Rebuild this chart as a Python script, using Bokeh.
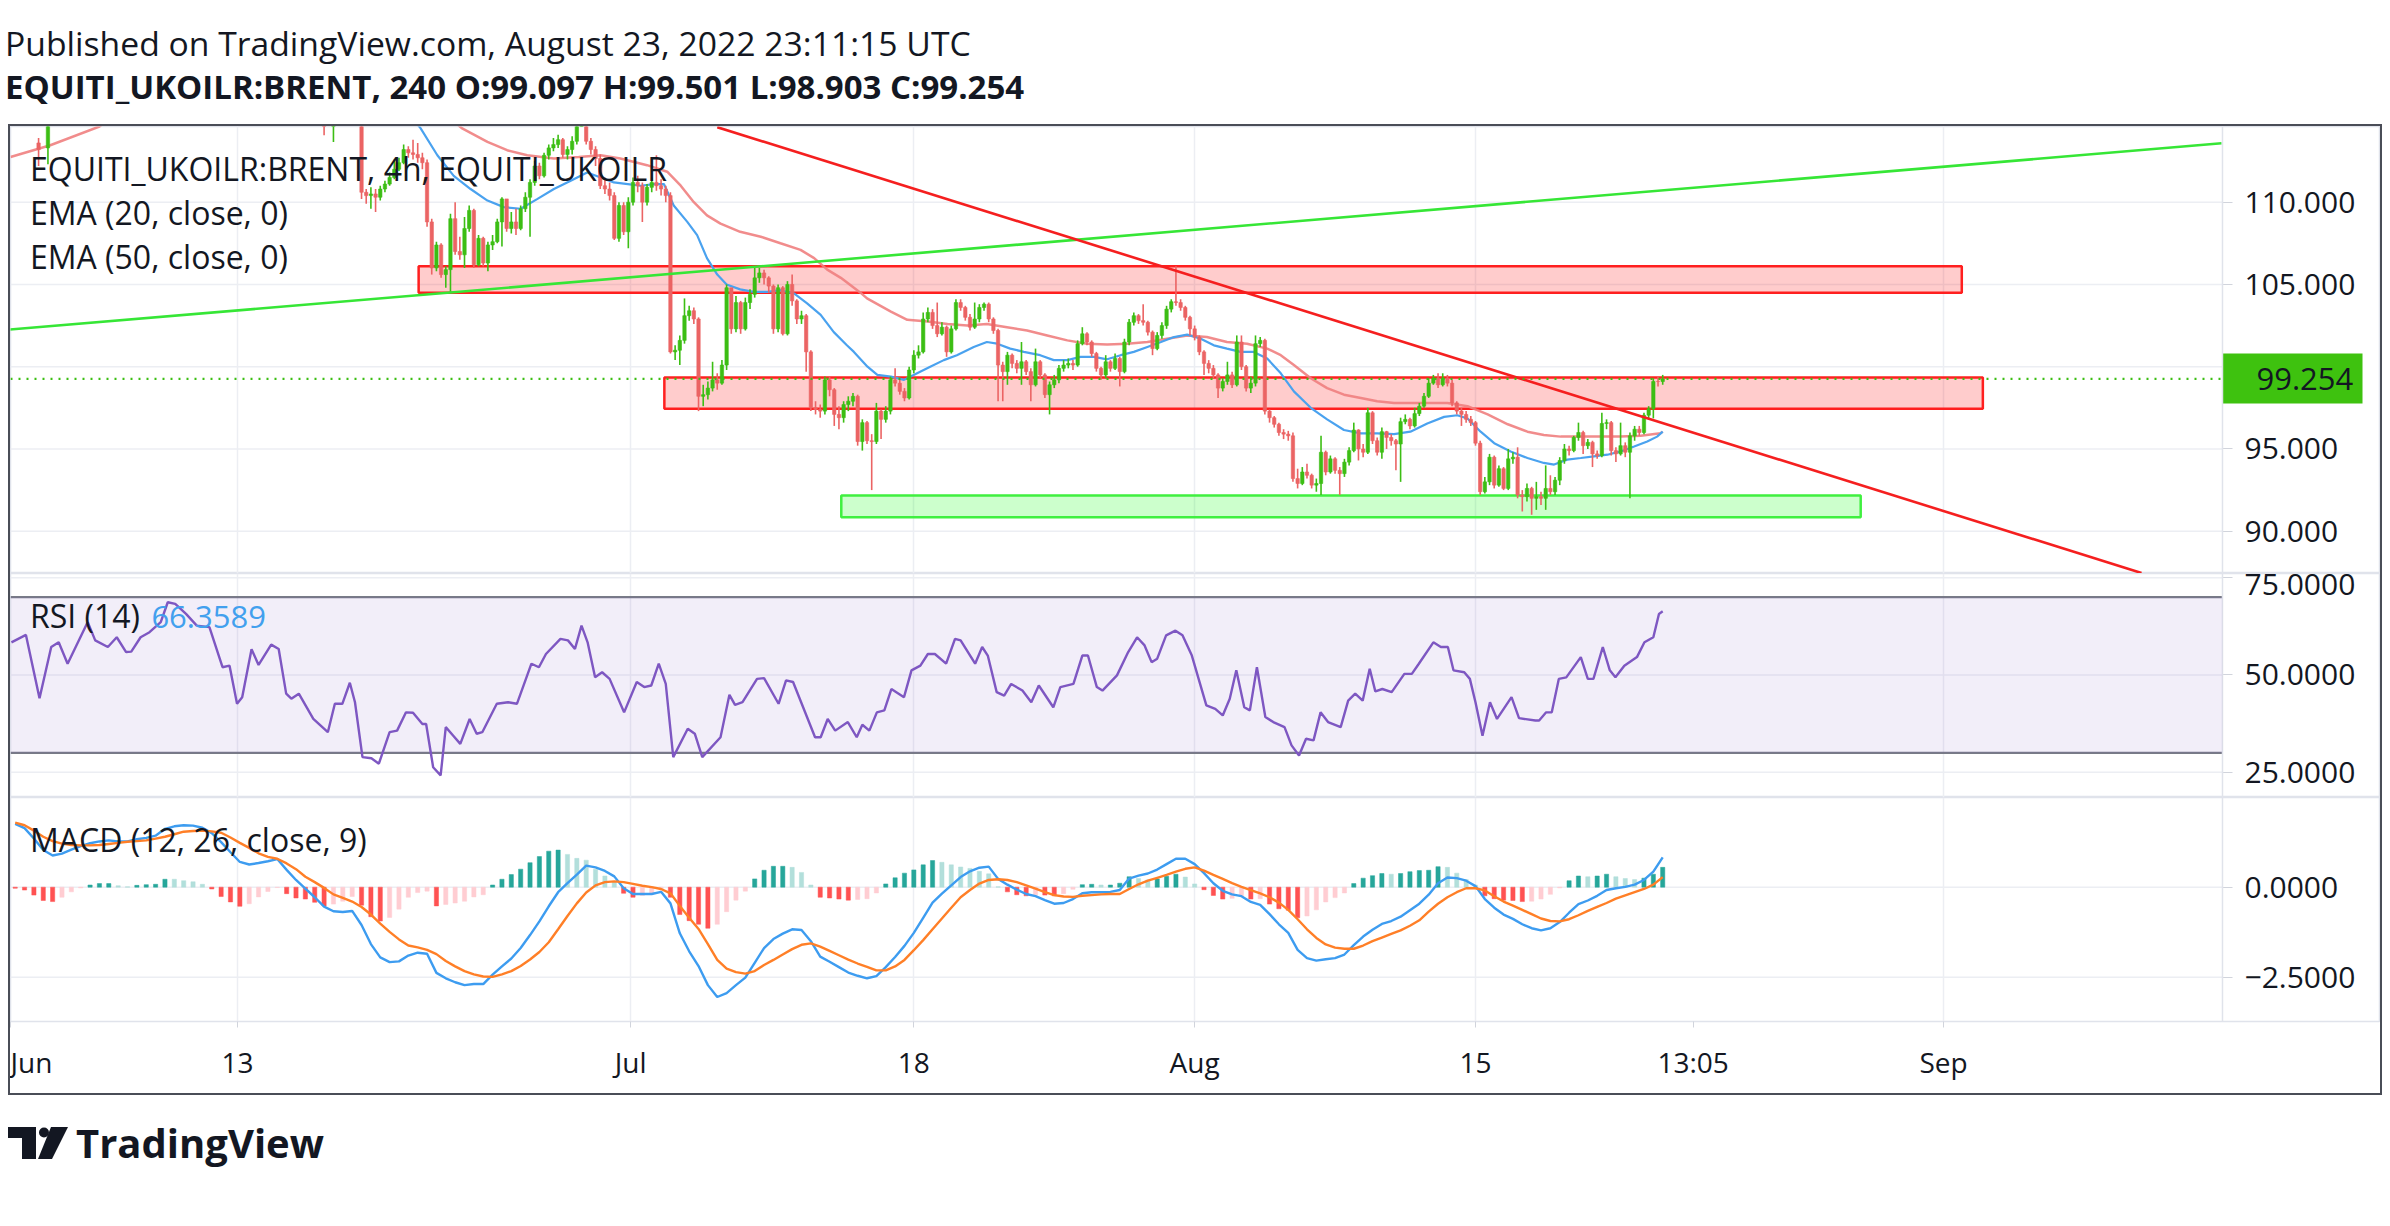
from bokeh.plotting import figure
from bokeh.models import (Range1d, FixedTicker, NumeralTickFormatter, Span, Label, LinearAxis,
                          Legend, LegendItem, Div, BoxAnnotation, ColumnDataSource)
from bokeh.layouts import column
from bokeh.embed import file_html
from bokeh.resources import INLINE

FONT = "Open Sans"
TEXT = "#131722"

# ---------------- data (bar index = 4h candle number, 0 = first visible bar) ----------------
# few early candles that poke into the visible price window
early_bar = [6, 8, 67, 69]
early_open = [113.6, 113.3, 116.3, 115.3]
early_high = [113.9, 116.0, 116.8, 116.6]
early_low = [112.2, 112.3, 114.07, 113.66]
early_close = [113.2, 115.5, 115.6, 116.1]

# continuous block of candles, bars 75 .. 353
first_bar = 75
first_open = 115.2
closes = [
    110.6, 110.4, 110.5, 110.3, 110.8, 111.1, 111.5, 112.0, 112.4, 113.2,
    113.0, 112.9, 112.7, 112.4, 108.8, 106.0, 107.4, 105.6, 105.9, 109.0,
    107.0, 106.8, 108.4, 109.5, 106.2, 107.8, 106.3, 107.4, 107.6, 108.8,
    110.2, 108.4, 108.8, 108.4, 109.6, 110.3, 111.2, 112.2, 111.6, 112.85,
    113.3, 113.5, 113.8, 112.9, 113.2, 113.7, 114.8, 115.5, 113.7, 113.2,
    112.65, 111.0, 110.8, 110.4, 107.8, 109.8, 108.2, 110.0, 111.2, 111.0,
    110.0, 110.9, 111.2, 111.0, 110.8, 110.4, 100.9, 101.0, 101.6, 103.1,
    103.4, 102.9, 98.2, 98.3, 98.7, 99.2, 99.0, 100.1, 104.8, 102.3,
    103.9, 102.3, 103.9, 104.4, 105.4, 105.7, 105.4, 104.9, 102.3, 104.8,
    102.0, 105.0, 104.0, 102.9, 103.1, 100.9, 97.5, 97.4, 97.3, 99.2,
    98.6, 97.1, 96.9, 97.7, 97.9, 98.2, 95.45, 96.6, 95.5, 95.45,
    97.3, 96.8, 97.3, 99.2, 99.0, 98.5, 98.1, 99.8, 100.7, 100.9,
    102.9, 103.3, 102.5, 102.0, 102.4, 100.9, 102.3, 103.9, 103.6, 103.0,
    102.4, 102.9, 103.6, 103.8, 102.9, 102.2, 100.1, 99.7, 100.7, 100.2,
    99.9, 100.3, 99.7, 98.9, 100.3, 99.5, 98.3, 98.9, 99.2, 99.9,
    100.1, 100.2, 100.1, 101.4, 102.0, 101.5, 100.8, 99.9, 99.5, 100.3,
    99.9, 100.5, 99.7, 101.5, 102.7, 103.1, 102.8, 102.7, 102.1, 101.1,
    101.9, 102.5, 103.5, 103.95, 103.9, 103.6, 103.0, 102.3, 101.8, 100.9,
    100.2, 99.9, 99.5, 98.7, 99.1, 99.5, 98.9, 101.5, 100.0, 98.7,
    99.0, 101.4, 101.6, 97.3, 96.9, 96.5, 96.0, 95.9, 95.8, 93.2,
    92.9, 93.6, 93.4, 92.8, 92.9, 94.8, 93.6, 94.4, 93.7, 93.5,
    94.2, 94.9, 96.15, 95.0, 94.8, 97.2, 95.5, 94.8, 96.05, 95.7,
    95.5, 95.3, 96.66, 96.8, 96.4, 97.15, 97.6, 98.2, 99.0, 99.3,
    98.9, 99.3, 99.0, 97.8, 97.3, 97.1, 96.8, 96.6, 95.35, 92.4,
    93.0, 94.5, 92.8, 93.8, 92.6, 94.4, 94.5, 92.2, 92.1, 92.6,
    92.0, 92.1, 92.0, 92.6, 92.4, 93.1, 94.3, 95.0, 94.9, 95.7,
    96.0, 95.2, 95.4, 94.7, 94.6, 96.55, 96.6, 94.9, 94.7, 95.2,
    94.8, 95.8, 96.2, 96.0, 97.05, 97.45, 99.1, 99.097, 99.254,
]
highs = [
    115.6, 110.8, 110.9, 110.8, 111.0, 111.3, 111.8, 112.6, 112.7, 113.5,
    113.4, 113.8, 113.6, 113.0, 112.6, 109.0, 107.6, 107.5, 106.1, 109.3,
    110.0, 107.9, 109.1, 109.8, 109.6, 108.0, 107.9, 107.6, 108.0, 109.0,
    110.3, 110.2, 109.4, 109.6, 109.8, 110.6, 111.4, 112.5, 112.4, 113.0,
    113.5, 113.9, 114.1, 113.9, 113.4, 114.0, 115.3, 116.0, 115.6, 113.9,
    113.4, 112.9, 111.5, 111.2, 110.6, 110.0, 110.0, 110.3, 111.5, 111.6,
    111.2, 111.1, 111.5, 112.85, 111.4, 111.0, 110.6, 101.3, 101.9, 104.15,
    103.7, 103.6, 103.0, 98.9, 99.1, 100.3, 99.6, 100.4, 105.0, 104.6,
    104.3, 104.0, 104.2, 104.7, 106.0, 106.0, 105.9, 105.5, 105.0, 105.0,
    104.9, 105.2, 105.6, 104.1, 103.4, 103.2, 101.0, 97.9, 97.7, 99.4,
    99.4, 98.7, 97.6, 97.9, 98.2, 98.4, 98.3, 96.8, 96.7, 95.9,
    97.8, 97.4, 97.6, 99.4, 99.9, 99.2, 98.7, 100.0, 101.0, 101.3,
    103.3, 103.6, 103.5, 103.9, 102.7, 102.5, 102.5, 104.1, 104.1, 103.7,
    103.2, 103.9, 103.8, 103.9, 103.9, 103.0, 102.3, 100.3, 100.9, 100.8,
    100.4, 101.5, 100.4, 99.9, 101.1, 100.4, 99.6, 99.1, 99.5, 100.1,
    100.4, 100.5, 100.4, 101.6, 102.4, 102.1, 101.6, 100.9, 100.0, 100.7,
    100.4, 100.8, 100.6, 101.7, 102.9, 103.3, 103.2, 103.8, 102.8, 102.2,
    102.1, 102.7, 103.7, 104.1, 106.1, 104.1, 103.7, 103.1, 102.5, 101.9,
    101.0, 100.4, 100.1, 99.6, 99.3, 100.3, 99.7, 101.9, 101.9, 100.1,
    99.4, 101.9, 101.8, 101.7, 97.4, 97.0, 96.6, 96.2, 96.1, 96.0,
    93.8, 93.9, 94.1, 93.5, 93.2, 95.8, 94.9, 94.6, 94.5, 93.9,
    94.4, 95.1, 96.6, 96.2, 95.3, 97.5, 97.3, 95.7, 96.3, 96.1,
    95.9, 95.6, 96.9, 97.1, 96.9, 97.5, 97.8, 98.4, 99.3, 99.5,
    99.6, 99.6, 99.5, 99.2, 97.9, 97.5, 97.3, 97.0, 96.7, 95.5,
    93.3, 94.7, 94.6, 94.0, 93.9, 95.0, 94.8, 95.1, 92.5, 92.9,
    92.7, 93.0, 92.4, 94.0, 93.4, 93.3, 94.5, 95.3, 95.2, 95.8,
    96.6, 96.1, 95.6, 95.5, 94.9, 97.2, 96.8, 96.7, 95.1, 96.6,
    95.4, 96.0, 96.4, 96.4, 97.2, 97.6, 99.3, 99.4, 99.501,
]
lows = [
    110.2, 109.9, 109.6, 109.4, 110.1, 110.6, 111.0, 111.4, 111.9, 112.3,
    112.7, 112.6, 112.4, 112.0, 108.5, 105.6, 105.8, 105.4, 104.8, 104.55,
    106.8, 106.5, 106.0, 108.2, 106.0, 106.1, 106.1, 105.8, 107.1, 107.5,
    107.3, 108.2, 108.1, 108.0, 108.3, 109.4, 107.9, 111.0, 111.4, 111.5,
    112.6, 113.1, 113.3, 112.7, 112.6, 112.9, 113.5, 114.6, 113.5, 112.9,
    112.2, 110.8, 110.5, 110.1, 107.7, 107.6, 108.0, 107.2, 109.8, 110.6,
    108.8, 109.8, 110.6, 110.7, 110.4, 110.0, 100.8, 100.4, 100.1, 101.4,
    102.8, 102.6, 97.3, 97.6, 98.0, 98.5, 98.6, 98.9, 99.8, 102.0,
    102.1, 102.0, 102.2, 103.5, 104.2, 105.1, 105.0, 104.5, 102.0, 102.1,
    101.9, 101.9, 103.7, 102.6, 102.6, 99.7, 97.3, 97.1, 96.9, 97.1,
    98.2, 96.4, 96.2, 96.6, 97.3, 97.6, 95.2, 94.9, 95.3, 92.5,
    95.3, 95.6, 96.6, 97.1, 98.8, 98.3, 97.9, 98.0, 99.6, 100.5,
    100.8, 102.7, 102.3, 101.8, 101.9, 100.6, 100.8, 102.2, 103.4, 102.8,
    102.2, 102.3, 102.7, 103.4, 102.7, 102.0, 97.9, 97.9, 98.9, 99.9,
    99.6, 98.9, 99.5, 97.9, 98.8, 99.3, 98.1, 97.1, 98.7, 99.0,
    99.7, 99.9, 99.8, 100.0, 101.3, 101.3, 100.6, 99.7, 99.2, 99.3,
    99.7, 99.8, 98.8, 99.6, 101.3, 102.5, 102.6, 102.5, 101.9, 100.7,
    101.0, 101.7, 102.3, 103.3, 103.7, 103.4, 102.8, 101.9, 101.6, 100.7,
    99.5, 99.6, 99.3, 98.1, 98.5, 98.9, 98.7, 98.8, 99.8, 98.5,
    98.4, 98.8, 101.2, 97.1, 96.6, 96.3, 95.8, 95.6, 95.5, 93.0,
    92.6, 92.8, 93.2, 92.6, 92.4, 92.2, 93.4, 93.5, 93.5, 92.2,
    93.3, 94.0, 94.8, 94.3, 94.5, 94.7, 95.3, 94.6, 94.4, 95.0,
    95.2, 93.7, 93.0, 96.5, 96.2, 96.3, 97.0, 97.5, 98.1, 98.9,
    98.7, 98.8, 98.8, 97.6, 97.1, 96.4, 96.6, 96.4, 95.2, 92.2,
    92.3, 92.8, 92.6, 92.7, 92.5, 92.5, 94.1, 92.0, 91.2, 91.8,
    91.0, 91.3, 91.6, 91.3, 92.2, 92.2, 92.8, 94.1, 94.6, 94.8,
    95.5, 94.7, 95.0, 93.9, 94.4, 94.5, 96.2, 94.6, 94.2, 94.6,
    94.5, 92.0, 95.5, 95.8, 95.9, 96.8, 96.86, 98.8, 98.903,
]

# EMA lines (bar, value)
ema20_bar = [85.0, 87.6, 91.2, 94.7, 98.3, 101.9, 105.4, 109.0, 112.6, 116.1, 119.7, 123.2, 126.1,
             128.9, 131.9, 134.6, 137.5, 139.6, 141.7, 144.6, 146.7, 148.8, 151.0, 153.0, 155.9,
             158.8, 161.7, 164.5, 167.4, 170.2, 173.1, 175.9, 178.7, 180.2, 183.1, 185.2, 188.1,
             190.9, 193.7, 196.5, 199.4, 202.2, 205.8, 208.6, 210.8, 213.6, 216.5, 220.0, 222.9,
             225.8, 228.6, 231.5, 234.3, 237.2, 240.0, 242.9, 245.8, 248.6, 251.4, 254.3, 257.1,
             259.9, 262.8, 265.6, 268.5, 271.4, 274.2, 277.8, 281.3, 284.9, 288.5, 292.0, 295.6,
             299.1, 302.7, 306.3, 309.1, 311.3, 314.1, 317.0, 320.5, 324.1, 327.6, 329.8, 332.6,
             335.5, 338.3, 341.2, 344.0, 346.9, 349.7, 351.8, 353.0]
ema20_val = [115.4, 114.5, 112.85, 111.6, 110.8, 110.1, 109.7, 109.6, 110.2, 110.8, 111.3, 111.8, 111.5,
             111.2, 111.1, 111.0, 111.1, 111.1, 109.8, 108.8, 108.0, 106.6, 105.6, 105.0, 104.7,
             104.55, 104.55, 104.65, 104.45, 103.85, 103.15, 102.1, 101.3, 100.9, 100.0, 99.5, 99.4,
             99.2, 99.6, 100.0, 100.4, 100.7, 101.2, 101.5, 101.4, 101.1, 100.9, 100.7, 100.4,
             100.4, 100.6, 100.6, 100.45, 100.7, 100.9, 101.2, 101.5, 101.8, 101.95, 101.7, 101.3,
             101.1, 100.9, 100.9, 100.5, 99.6, 98.5, 97.5, 96.8, 96.15, 95.95, 95.95, 95.9,
             96.05, 96.55, 96.95, 97.05, 96.85, 96.05, 95.35, 94.85, 94.45, 94.15, 94.05, 94.35,
             94.45, 94.55, 94.65, 94.85, 95.15, 95.45, 95.75, 96.05]
ema50_bar = [0.0, 8.5, 19.0, 23.0, 92.0, 96.4, 101.9, 106.1, 110.4, 116.1, 121.4, 126.1, 130.3, 136.0,
             140.3, 143.2, 146.0, 148.8, 151.7, 155.9, 160.3, 164.5, 168.8, 171.7, 174.5, 177.4,
             181.6, 183.0, 188.1, 191.6, 196.0, 200.2, 204.4, 208.6, 212.9, 217.2, 221.5, 225.8,
             230.0, 234.3, 238.6, 242.9, 247.1, 251.4, 255.6, 259.9, 264.2, 268.5, 271.4, 274.2,
             277.8, 281.3, 284.9, 288.5, 292.0, 295.6, 299.1, 302.7, 307.0, 311.3, 315.6, 319.9,
             324.1, 327.6, 331.2, 335.5, 339.8, 344.0, 348.3, 352.5, 353.0]
ema50_val = [112.75, 113.46, 114.6, 115.5, 115.6, 114.5, 113.66, 113.16, 112.85, 112.65, 112.75, 112.85,
             112.65, 112.25, 111.85, 111.0, 110.0, 109.2, 108.7, 108.2, 107.9, 107.5, 107.1, 106.6,
             105.9, 105.4, 104.5, 104.15, 103.35, 102.85, 102.75, 102.6, 102.5, 102.6, 102.4, 102.2,
             101.9, 101.6, 101.4, 101.35, 101.4, 101.5, 101.7, 101.9, 101.8, 101.5, 101.4, 101.1,
             100.7, 100.1, 99.3, 98.7, 98.3, 98.1, 97.9, 97.8, 97.8, 97.8, 97.8, 97.6, 97.1, 96.5,
             96.05, 95.85, 95.75, 95.75, 95.75, 95.75, 95.8, 95.95, 96.05]

# drawings on the price pane
green_line_bar = [-0.4, 472.4]
green_line_price = [102.25, 113.58]
red_line_bar = [151.0, 455.3]
red_line_price = [114.56, 87.46]
zone_left = [87.2, 139.7, 177.5]
zone_right = [416.9, 421.4, 395.3]
zone_bottom = [104.5, 97.45, 90.85]
zone_top = [106.1, 99.35, 92.17]
zone_line = ["#ff1f1f", "#ff1f1f", "#3ff03f"]
zone_fill = ["#ff0000", "#ff0000", "#00ff00"]

# RSI (14)
rsi_bar = [0.2, 3.3, 6.2, 8.7, 10.3, 12.2, 16.5, 18.1, 20.8, 22.7,
           24.7, 25.8, 27.8, 29.7, 32.1, 33.6, 35.2, 37.5, 39.8, 42.5,
           45.3, 46.8, 48.4, 49.5, 51.5, 53.0, 55.7, 57.3, 58.9, 60.0,
           61.6, 64.7, 67.8, 69.3, 70.9, 72.5, 73.6, 75.2, 77.1, 78.7,
           81.0, 82.6, 84.5, 86.0, 88.0, 88.8, 90.3, 91.9, 93.0, 94.6,
           96.1, 98.1, 99.6, 100.8, 103.9, 106.3, 108.2, 111.3, 112.9, 114.4,
           117.5, 119.1, 120.6, 122.0, 123.3, 124.9, 126.4, 128.0, 131.1, 133.8,
           135.4, 136.9, 138.5, 140.0, 141.6, 144.7, 146.2, 147.8, 151.7, 153.6,
           154.8, 156.4, 159.5, 161.0, 164.1, 165.7, 167.2, 171.9, 173.1, 174.6,
           176.2, 178.9, 180.8, 182.0, 183.5, 185.1, 186.7, 188.2, 190.9, 192.5,
           194.4, 196.0, 197.5, 199.9, 201.8, 203.0, 206.1, 207.6, 208.8, 210.7,
           212.3, 213.8, 216.2, 218.1, 219.7, 222.8, 224.3, 227.1, 229.0, 230.2,
           232.1, 233.3, 236.4, 238.8, 240.7, 242.3, 243.8, 245.0, 246.9, 248.9,
           250.4, 252.4, 255.5, 257.4, 259.0, 260.5, 261.9, 263.6, 264.8, 266.3,
           268.1, 269.8, 272.2, 273.7, 275.3, 276.8, 278.4, 279.9, 281.5, 284.2,
           285.8, 287.3, 288.9, 290.4, 291.6, 293.1, 295.1, 297.8, 299.4, 300.9,
           304.0, 305.6, 307.1, 308.3, 310.6, 311.8, 313.0, 314.5, 316.1, 317.6,
           320.7, 322.3, 325.8, 326.6, 328.1, 329.3, 330.8, 332.4, 335.5, 337.0,
           338.2, 340.2, 341.7, 342.9, 344.8, 347.5, 349.1, 351.0, 352.2, 353.0]
rsi_val = [58.4, 60.3, 44.0, 57.2, 58.4, 52.9, 63.6, 58.9, 57.2, 59.7,
           55.9, 56.0, 59.7, 61.0, 63.6, 68.7, 68.3, 65.7, 62.7, 62.3,
           52.0, 52.4, 42.6, 44.3, 56.6, 52.6, 57.8, 56.7, 45.2, 43.9,
           45.2, 38.7, 35.3, 42.6, 42.6, 48.0, 43.0, 28.9, 28.6, 27.2,
           35.3, 35.7, 40.4, 40.3, 37.4, 37.4, 26.3, 24.2, 36.6, 34.4,
           32.3, 38.7, 34.9, 35.3, 42.6, 43.0, 42.6, 52.9, 52.0, 55.4,
           59.3, 58.9, 56.7, 62.7, 58.4, 49.4, 50.7, 49.0, 40.4, 48.2,
           46.9, 47.3, 52.9, 47.7, 28.9, 36.2, 34.9, 28.9, 34.0, 44.9,
           42.3, 43.0, 49.0, 49.2, 42.6, 48.6, 48.2, 34.0, 34.0, 38.7,
           35.7, 37.9, 34.0, 37.2, 35.7, 40.4, 40.9, 46.4, 44.3, 51.2,
           52.4, 55.4, 55.4, 52.9, 59.3, 58.9, 52.9, 57.2, 55.0, 45.6,
           44.7, 47.7, 46.0, 43.0, 47.3, 41.7, 46.9, 47.7, 55.0, 55.0,
           46.9, 46.0, 49.9, 55.9, 59.7, 57.6, 53.3, 54.2, 60.2, 61.4,
           60.2, 55.0, 42.2, 41.3, 39.6, 43.9, 51.2, 41.7, 40.9, 52.0,
           39.2, 37.9, 36.6, 31.9, 29.3, 33.6, 33.2, 40.4, 37.9, 36.6,
           43.4, 45.2, 43.4, 51.6, 45.8, 46.4, 45.6, 50.3, 50.3, 52.9,
           58.4, 57.2, 57.2, 51.2, 50.7, 49.0, 43.0, 34.4, 43.0, 38.7,
           44.3, 38.9, 38.3, 38.3, 40.4, 40.4, 49.0, 49.4, 54.6, 49.0,
           49.0, 57.2, 51.2, 49.4, 52.4, 54.6, 58.4, 59.7, 65.7, 66.3589]
rsi_levels = [30, 70]

# MACD (12, 26, 9) read every second bar
macd_bar = list(range(1, 354, 2))
macd_val = [1.76, 1.64, 1.35, 1.03, 0.88, 0.93, 1.04, 1.14, 1.22, 1.27,
            1.30, 1.27, 1.27, 1.33, 1.37, 1.43, 1.62, 1.69, 1.72, 1.71,
            1.65, 1.50, 1.25, 0.97, 0.70, 0.63, 0.67, 0.72, 0.78, 0.48,
            0.20, -0.04, -0.28, -0.54, -0.67, -0.69, -0.66, -1.05, -1.58, -1.95,
            -2.08, -2.06, -1.90, -1.82, -1.85, -2.38, -2.53, -2.64, -2.72, -2.69,
            -2.69, -2.43, -2.20, -1.98, -1.69, -1.33, -0.95, -0.53, -0.14, 0.11,
            0.35, 0.60, 0.55, 0.45, 0.30, -0.03, -0.19, -0.19, -0.19, -0.13,
            -0.45, -1.28, -1.78, -2.19, -2.72, -3.05, -2.94, -2.72, -2.51, -2.10,
            -1.69, -1.44, -1.29, -1.17, -1.19, -1.50, -1.93, -2.07, -2.22, -2.37,
            -2.46, -2.53, -2.47, -2.22, -1.94, -1.63, -1.27, -0.85, -0.43, -0.18,
            0.05, 0.28, 0.44, 0.54, 0.57, 0.23, 0.07, -0.07, -0.19, -0.25,
            -0.36, -0.46, -0.44, -0.33, -0.17, -0.14, -0.14, -0.13, -0.08, 0.24,
            0.32, 0.38, 0.49, 0.64, 0.79, 0.79, 0.64, 0.39, 0.11, -0.10,
            -0.20, -0.25, -0.41, -0.49, -0.75, -1.03, -1.27, -1.74, -1.97, -2.04,
            -2.00, -1.97, -1.87, -1.61, -1.37, -1.18, -1.02, -0.94, -0.82, -0.64,
            -0.46, -0.21, 0.11, 0.27, 0.25, 0.18, 0.03, -0.33, -0.57, -0.76,
            -0.88, -1.03, -1.14, -1.20, -1.14, -0.97, -0.71, -0.47, -0.37, -0.24,
            -0.08, -0.03, 0.01, 0.07, 0.20, 0.43, 0.83]
signal_val = [1.79, 1.72, 1.57, 1.40, 1.28, 1.21, 1.17, 1.16, 1.16, 1.17,
              1.20, 1.23, 1.26, 1.28, 1.30, 1.35, 1.40, 1.47, 1.54, 1.56,
              1.57, 1.55, 1.51, 1.38, 1.23, 1.09, 0.94, 0.84, 0.79, 0.66,
              0.50, 0.29, 0.14, -0.02, -0.20, -0.30, -0.40, -0.55, -0.76, -1.01,
              -1.24, -1.45, -1.62, -1.67, -1.74, -1.86, -2.05, -2.20, -2.33, -2.42,
              -2.48, -2.49, -2.42, -2.33, -2.19, -2.01, -1.80, -1.53, -1.17, -0.80,
              -0.45, -0.15, 0.05, 0.14, 0.16, 0.14, 0.09, 0.04, 0.00, -0.05,
              -0.17, -0.52, -0.85, -1.16, -1.58, -2.02, -2.26, -2.36, -2.40, -2.33,
              -2.16, -2.02, -1.87, -1.72, -1.60, -1.56, -1.65, -1.77, -1.89, -2.01,
              -2.12, -2.21, -2.31, -2.31, -2.20, -2.02, -1.75, -1.47, -1.17, -0.87,
              -0.57, -0.28, -0.08, 0.10, 0.20, 0.22, 0.20, 0.14, 0.05, -0.04,
              -0.14, -0.22, -0.26, -0.27, -0.24, -0.22, -0.20, -0.19, -0.19, -0.05,
              0.08, 0.18, 0.26, 0.34, 0.43, 0.51, 0.55, 0.46, 0.34, 0.23,
              0.11, 0.01, -0.08, -0.17, -0.28, -0.43, -0.63, -0.89, -1.17, -1.41,
              -1.59, -1.68, -1.71, -1.71, -1.62, -1.50, -1.40, -1.30, -1.20, -1.07,
              -0.92, -0.68, -0.46, -0.28, -0.14, -0.03, -0.03, -0.09, -0.25, -0.40,
              -0.51, -0.63, -0.75, -0.87, -0.94, -0.95, -0.89, -0.78, -0.66, -0.55,
              -0.44, -0.32, -0.23, -0.14, -0.05, 0.07, 0.28]

# time axis
grid_bars = [48.5, 132.5, 193, 253, 313, 413]
time_ticks = [0, 48.5, 132.5, 193, 253, 313, 359.5, 413]
time_labels = ["Jun", "13", "Jul", "18", "Aug", "15", "13:05", "Sep"]

# ---------------- derived candle table ----------------
main_bars = list(range(first_bar, first_bar + len(closes)))
opens = [first_open] + closes[:-1]
c_bar = early_bar + main_bars
c_open = early_open + opens
c_high = early_high + highs
c_low = early_low + lows
c_close = early_close + closes
UP, DOWN = "#3cbe14", "#eb6464"
c_color = [UP if c >= o else DOWN for o, c in zip(c_open, c_close)]
candles = ColumnDataSource(dict(
    bar=c_bar, high=c_high, low=c_low, color=c_color,
    top=[max(o, c) for o, c in zip(c_open, c_close)],
    bottom=[min(o, c) for o, c in zip(c_open, c_close)]))

hist = [m - s for m, s in zip(macd_val, signal_val)]
hist_color = []
prev = None
for h in hist:
    if h >= 0:
        hist_color.append("#26a69a" if (prev is None or h >= prev) else "#b2dfdb")
    else:
        hist_color.append("#ffcdd2" if (prev is not None and h > prev) else "#ff5252")
    prev = h

# ---------------- figures ----------------
# the plot frame spans the whole box; the price scale lives right of PRICE_X
PRICE_X = 472.6
x_range = Range1d(0, 506.36)
GRID = "#eceef3"
SEP = "#e0e3eb"


def make_pane(height, y0, y1, ticks, fmt, bottom=0, with_xaxis=False):
    p = figure(width=2370, height=height, x_range=x_range, y_range=Range1d(y0, y1),
               output_backend="svg", toolbar_location=None,
               x_axis_location="below" if with_xaxis else None, y_axis_location="right",
               min_border_left=0, min_border_right=0, min_border_top=0,
               min_border_bottom=bottom)
    p.background_fill_color = "white"
    p.border_fill_color = "white"
    p.outline_line_color = SEP
    p.outline_line_width = 1.5
    p.xgrid.ticker = FixedTicker(ticks=grid_bars)
    p.xgrid.grid_line_color = GRID
    p.xgrid.grid_line_width = 1.5
    p.ygrid.visible = False
    # horizontal grid lines stop at the price scale
    p.segment(x0=0, x1=PRICE_X, y0=ticks, y1=ticks, line_color=GRID, line_width=1.5,
              level="underlay")
    p.add_layout(Span(location=PRICE_X, dimension="height", line_color=SEP, line_width=1.5))
    ax = p.yaxis[0]
    ax.fixed_location = PRICE_X
    ax.ticker = FixedTicker(ticks=ticks)
    ax.formatter = NumeralTickFormatter(format=fmt)
    ax.axis_line_color = None
    ax.major_tick_line_color = "#d1d4dc"
    ax.major_tick_out = 10
    ax.major_tick_in = 0
    ax.minor_tick_line_color = None
    ax.major_label_standoff = 12
    ax.major_label_text_font = FONT
    ax.major_label_text_font_size = "30px"
    ax.major_label_text_color = TEXT
    return p


def pane_legend(items):
    return Legend(items=items, location="top_left", margin=20, padding=0, spacing=0,
                  glyph_width=0, glyph_height=44, label_height=44, label_standoff=0,
                  background_fill_alpha=0, border_line_alpha=0,
                  label_text_font=FONT, label_text_font_size="32px", label_text_color=TEXT)


# ----- price pane -----
p_main = make_pane(447, 87.43, 114.60, [90, 95, 100, 105, 110], "0.000")
p_main.yaxis[0].major_label_overrides = {100: ""}

p_main.quad(left=zone_left, right=zone_right, bottom=zone_bottom, top=zone_top,
            fill_color=zone_fill, fill_alpha=0.2, line_color=zone_line, line_width=2.5)
r_e50 = p_main.line(ema50_bar, ema50_val, line_color="#f08080", line_width=2.5, line_alpha=0.9)
r_e20 = p_main.line(ema20_bar, ema20_val, line_color="#4aa2ef", line_width=2.2)
p_main.segment(x0="bar", y0="low", x1="bar", y1="high", line_color="color", line_width=1.6, source=candles)
r_body = p_main.vbar(x="bar", width=0.72, top="top", bottom="bottom", fill_color="color",
                     line_color="color", line_width=0.6, source=candles)
p_main.line(green_line_bar, green_line_price, line_color="#36e636", line_width=2.6)
p_main.line(red_line_bar, red_line_price, line_color="#f51f1f", line_width=2.6)
p_main.segment(x0=0, x1=PRICE_X, y0=[closes[-1]], y1=[closes[-1]], line_color="#3cbe14",
               line_dash="2 6", line_width=2.2)
# last-price tag on the price scale: a one-tick axis whose thick tick forms the green box
tag_axis = LinearAxis(ticker=FixedTicker(ticks=[closes[-1]]),
                      formatter=NumeralTickFormatter(format="0.000"),
                      fixed_location=PRICE_X, axis_line_color=None,
                      major_tick_line_color="#3ec20f", major_tick_line_width=50,
                      major_tick_out=140, major_tick_in=0, minor_tick_line_color=None,
                      major_label_standoff=-106, major_label_text_font=FONT,
                      major_label_text_font_size="31px", major_label_text_color=TEXT)
p_main.add_layout(tag_axis, "right")
p_main.add_layout(pane_legend([
    LegendItem(label="EQUITI_UKOILR:BRENT, 4h, EQUITI_UKOILR", renderers=[r_body]),
    LegendItem(label="EMA (20, close, 0)", renderers=[r_e20]),
    LegendItem(label="EMA (50, close, 0)", renderers=[r_e50]),
]))

# ----- RSI pane -----
p_rsi = make_pane(224, 18.51, 76.09, [25, 50, 75], "0.0000")
p_rsi.add_layout(BoxAnnotation(left=0, right=PRICE_X, bottom=rsi_levels[0], top=rsi_levels[1],
                               fill_color="#7e57c2", fill_alpha=0.1, line_alpha=0))
p_rsi.segment(x0=0, x1=PRICE_X, y0=rsi_levels, y1=rsi_levels, line_color="#787b86", line_width=2.2)
r_rsi = p_rsi.line(rsi_bar, rsi_val, line_color="#7e57c2", line_width=2.4)
p_rsi.add_layout(pane_legend([LegendItem(label="RSI (14)", renderers=[r_rsi])]))
p_rsi.add_layout(Label(x=30.1, y=64.8, text=f"{rsi_val[-1]:.4f}", text_baseline="middle",
                       text_font=FONT, text_font_size="31px", text_color="#42a0ee"))

# ----- MACD pane with time axis -----
p_macd = make_pane(296, -3.73, 2.49, [-2.5, 0], "0.0000", bottom=72, with_xaxis=True)
p_macd.yaxis[0].major_label_overrides = {-2.5: "\u22122.5000"}
p_macd.vbar(x=macd_bar, width=0.9, top=hist, bottom=0, fill_color=hist_color,
            line_color=hist_color, line_width=0.5)
r_macd = p_macd.line(macd_bar, macd_val, line_color="#3d9cf0", line_width=2.4)
p_macd.line(macd_bar, signal_val, line_color="#ff7f27", line_width=2.4)
p_macd.add_layout(pane_legend([LegendItem(label="MACD (12, 26, close, 9)", renderers=[r_macd])]))
xa = p_macd.xaxis[0]
xa.ticker = FixedTicker(ticks=time_ticks)
xa.major_label_overrides = {t: lab for t, lab in zip(time_ticks, time_labels)}
xa.axis_line_color = None
xa.major_tick_line_color = "#d1d4dc"
xa.major_tick_out = 6
xa.major_tick_in = 0
xa.minor_tick_line_color = None
xa.major_label_standoff = 15
xa.major_label_text_font = FONT
xa.major_label_text_font_size = "28px"
xa.major_label_text_color = TEXT

chart = column(p_main, p_rsi, p_macd, spacing=0, width=2374, height=971,
               styles={"border": "2px solid #4a4d57", "box-sizing": "border-box"})

header = Div(width=2374, height=116, margin=(0, 0, 0, 0), text=(
    f"<div style=\"font-family:'{FONT}';color:{TEXT};margin-top:13px;margin-left:-3px;\">"
    "<div style=\"font-size:33.7px;line-height:44px;height:44px;white-space:nowrap;\">"
    "Published on TradingView.com, August 23, 2022 23:11:15 UTC</div>"
    "<div style=\"font-size:33px;line-height:44px;height:44px;font-weight:700;white-space:nowrap;\">"
    f"EQUITI_UKOILR:BRENT, 240 O:{opens[-1]:.3f} H:{highs[-1]:.3f} L:{lows[-1]:.3f} C:{closes[-1]:.3f}"
    "</div></div>"))

footer = Div(width=600, height=100, margin=(0, 0, 0, 0), text=(
    "<div style=\"display:flex;align-items:center;margin-top:28px;\">"
    "<svg width=\"60\" height=\"32\" viewBox=\"0 0 60 32\">"
    f"<path d=\"M0 0 H28 V32 H14 V11 H0 Z\" fill=\"{TEXT}\"/>"
    f"<circle cx=\"36\" cy=\"5.5\" r=\"5\" fill=\"{TEXT}\"/>"
    f"<path d=\"M43 0 H60 L44 32 H30 Z\" fill=\"{TEXT}\"/></svg>"
    f"<span style=\"font-family:'{FONT}';font-weight:700;font-size:40px;color:{TEXT};"
    "margin-left:8px;line-height:40px;\">TradingView</span></div>"))

layout = column(header, chart, footer, spacing=0, margin=(8, 8, 0, 8))
open("out.html", "w").write(file_html(layout, INLINE, title="EQUITI_UKOILR:BRENT"))
